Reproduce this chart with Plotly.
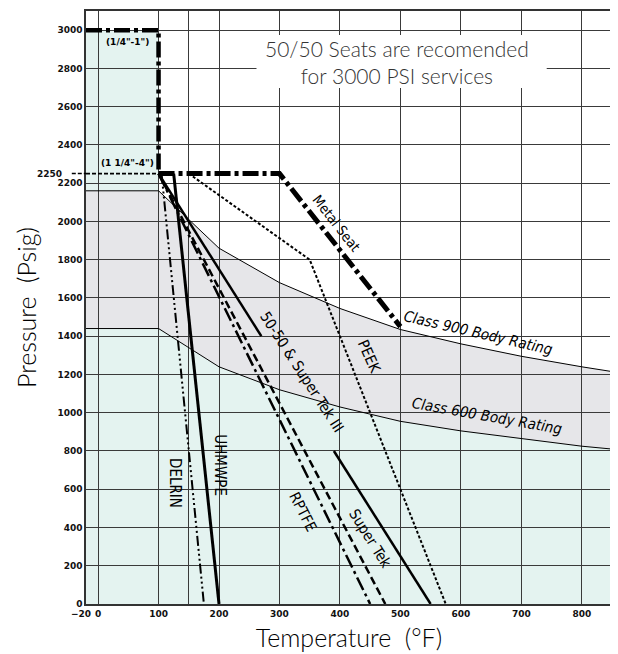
import plotly.graph_objects as go

# ---------------- data ----------------
body_temp = [-20, 100, 200, 300, 400, 500, 600, 700, 800, 850]
class900 = [2160, 2160, 1860, 1680, 1545, 1435, 1360, 1295, 1240, 1215]
class600 = [1440, 1440, 1240, 1120, 1030, 955, 905, 865, 825, 810]

small_x = [-20, 100, 100]          # (1/4"-1")
small_y = [3000, 3000, 2250]
large_x = [-20, 100]               # (1 1/4"-4")
large_y = [2250, 2250]
metal_x = [100, 300, 500]
metal_y = [2250, 2250, 1450]
peek_x = [150, 350, 575]
peek_y = [2250, 1800, 0]
delrin_x = [105, 175]
delrin_y = [2250, 0]
uhmwpe_x = [125, 200]
uhmwpe_y = [2250, 0]
rptfe_x = [100, 450]
rptfe_y = [2250, 0]
ptfe_x = [100, 475]
ptfe_y = [2250, 0]
fifty_x = [100, 270]
fifty_y = [2250, 1400]
supertek_x = [390, 550]
supertek_y = [800, 0]

x_ticks = [0, 100, 150, 200, 300, 400, 500, 600, 700, 800]
x_labels = ["0", "100", "", "200", "300", "400", "500", "600", "700", "800"]
y_ticks = list(range(0, 3001, 200))
y_labels = [str(v) for v in y_ticks]

TEAL = "#e4f3f0"
GRAY = "#e6e6e9"
LBL_FONT = "Liberation Sans Narrow, DejaVu Sans Condensed, Arial Narrow, Roboto, sans-serif"
TITLE_FONT = "Century Gothic, Lato, sans-serif"
TICK_FONT = dict(family="DejaVu Sans, Arial Black, sans-serif", size=9, color="#111", weight="bold")


def path(xs, ys):
    s = "M %s,%s" % (xs[0], ys[0])
    for a, b in zip(xs[1:], ys[1:]):
        s += " L %s,%s" % (a, b)
    return s + " Z"


fig = go.Figure()

shapes = []
# teal below class 600
shapes.append(dict(type="path", xref="x", yref="y", layer="below", line_width=0, fillcolor=TEAL,
                   path=path([body_temp[0]] + body_temp + [body_temp[-1]], [0] + class600 + [0])))
# gray band between class 600 and class 900
shapes.append(dict(type="path", xref="x", yref="y", layer="below", line_width=0, fillcolor=GRAY,
                   path=path(body_temp + body_temp[::-1], class900 + class600[::-1])))
# teal top-left block
shapes.append(dict(type="path", xref="x", yref="y", layer="below", line_width=0, fillcolor=TEAL,
                   path=path([small_x[0], small_x[1], small_x[1], small_x[0]],
                             [class900[0], class900[0], small_y[0], small_y[0]])))
# white note box (covers grid)
shapes.append(dict(type="rect", xref="x", yref="y", layer="between", line_width=0, fillcolor="white",
                   x0=262, x1=742, y0=2697, y1=2975))
# 2250 leader outside the axis
shapes.append(dict(type="line", xref="paper", yref="y", x0=-0.027, x1=0, y0=large_y[0], y1=large_y[0],
                   line=dict(color="black", width=1.5, dash="4px,2px")))
fig.update_layout(shapes=shapes)

# body ratings
fig.add_trace(go.Scatter(x=body_temp, y=class600, mode="lines", line=dict(color="black", width=1)))
fig.add_trace(go.Scatter(x=body_temp, y=class900, mode="lines", line=dict(color="black", width=1)))

# seat curves
fig.add_trace(go.Scatter(x=large_x, y=large_y, mode="lines", line=dict(color="black", width=1.6, dash="4px,2px")))
fig.add_trace(go.Scatter(x=peek_x, y=peek_y, mode="lines", line=dict(color="black", width=2, dash="3px,2px")))
fig.add_trace(go.Scatter(x=delrin_x, y=delrin_y, mode="lines",
                         line=dict(color="black", width=2, dash="10px,3px,2px,3px,2px,3px,2px,3px")))
fig.add_trace(go.Scatter(x=uhmwpe_x, y=uhmwpe_y, mode="lines", line=dict(color="black", width=3)))
fig.add_trace(go.Scatter(x=rptfe_x, y=rptfe_y, mode="lines", line=dict(color="black", width=2.5, dash="14px,4px,3px,4px")))
fig.add_trace(go.Scatter(x=ptfe_x, y=ptfe_y, mode="lines", line=dict(color="black", width=2.5, dash="8px,4px")))
fig.add_trace(go.Scatter(x=fifty_x, y=fifty_y, mode="lines", line=dict(color="black", width=2.5)))
fig.add_trace(go.Scatter(x=supertek_x, y=supertek_y, mode="lines", line=dict(color="black", width=2.5)))
fig.add_trace(go.Scatter(x=small_x, y=small_y, mode="lines", line=dict(color="black", width=4.5, dash="16px,4px,4px,4px")))
fig.add_trace(go.Scatter(x=metal_x, y=metal_y, mode="lines", line=dict(color="black", width=5, dash="16px,4px,4px,4px")))

ann = []


def label(x, y, text, angle=0, size=14, italic=False, family=LBL_FONT, bold=False):
    f = dict(family=family, size=size, color="black", style="italic" if italic else "normal")
    if bold:
        f["weight"] = "bold"
    ann.append(dict(x=x, y=y, xref="x", yref="y", text=text, showarrow=False, textangle=angle, font=f))


label(394, 1992, "Metal Seat", 52)
label(629, 1415, "Class 900 Body Rating", 13, italic=True, size=15)
label(643, 983, "Class 600 Body Rating", 10, italic=True, size=15)
label(449, 1293, "PEEK", 66, size=15)
label(337, 1214, "50-50 &amp; Super Tek III", 57, size=15)
label(201, 727, "UHMWPE", 90, size=15)
label(126, 631, "DELRIN", 90, size=15)
label(339, 482, "RPTFE", 63, size=15)
label(449, 343, "Super Tek", 58, size=15)
label(48, 2936, "(1/4\"-1\")", 0, size=9, family="DejaVu Sans, sans-serif", bold=True)
label(48, 2304, "(1 1/4\"-4\")", 0, size=9, family="DejaVu Sans, sans-serif", bold=True)
ann.append(dict(x=494, y=2833, xref="x", yref="y", showarrow=False,
                text="50/50 Seats are recomended<br>for 3000 PSI services",
                font=dict(family=TITLE_FONT, size=21, color="#333", weight=300)))
# special tick labels
ann.append(dict(x=0, y=large_y[0], xref="paper", yref="y", text="2250", showarrow=False, xanchor="right",
                xshift=-22, font=TICK_FONT))
ann.append(dict(x=-20, y=0, xref="x", yref="paper", text="−20", showarrow=False, xanchor="right",
                yanchor="top", xshift=7, yshift=-3, font=TICK_FONT))
fig.update_layout(annotations=ann)

fig.update_xaxes(range=[-20, 850], tickvals=x_ticks, ticktext=x_labels, showgrid=True, gridcolor="#3a3a3a",
                 gridwidth=1, showline=True, linecolor="#333", linewidth=1.5, mirror=True, zeroline=False,
                 ticks="", tickfont=TICK_FONT, automargin=False,
                 title=dict(text="Temperature  (°F)", standoff=12,
                            font=dict(family=TITLE_FONT, size=25, color="black", weight=300)))
fig.update_yaxes(range=[0, 3100], tickvals=y_ticks, ticktext=y_labels, showgrid=True, gridcolor="#3a3a3a",
                 gridwidth=1, showline=True, linecolor="#333", linewidth=1.5, mirror=True, zeroline=False,
                 ticks="", tickfont=TICK_FONT, automargin=False,
                 title=dict(text="Pressure  (Psig)", standoff=14,
                            font=dict(family=TITLE_FONT, size=25, color="black", weight=300)))

# the page body has an 8px default margin, so the figure is sized to fit the window
fig.update_layout(width=610, height=646, margin=dict(l=78, r=6, t=3, b=50), showlegend=False,
                  plot_bgcolor="white", paper_bgcolor="white")

fig.write_html("out.html")
